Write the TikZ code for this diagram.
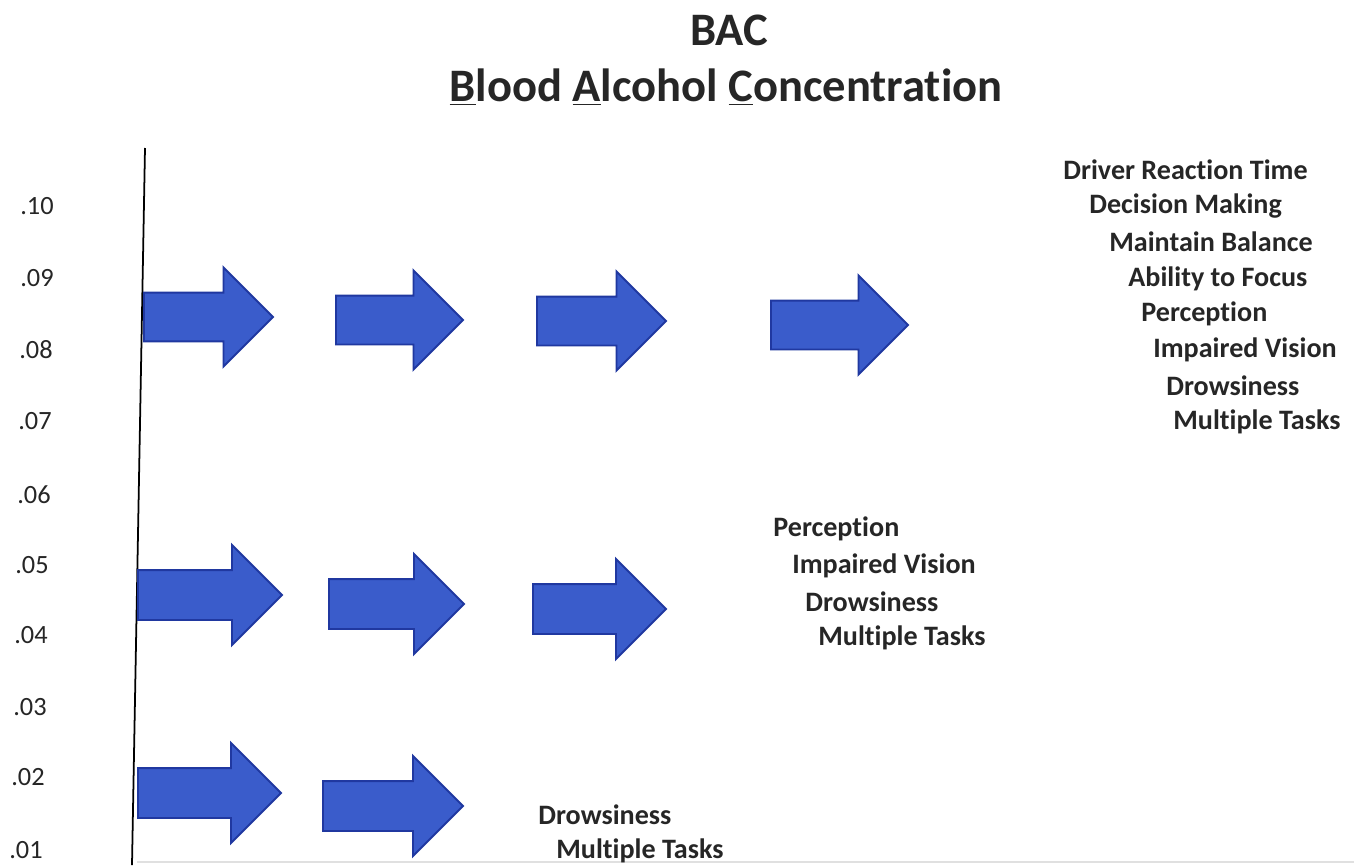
\documentclass[tikz,border=0pt]{standalone}
\usepackage{fontspec}
\setmainfont{Carlito}[Ligatures=NoCommon]
\usetikzlibrary{shapes.arrows}

\definecolor{arrowblue}{RGB}{58,92,203}
\definecolor{arrowedge}{RGB}{32,56,160}

\tikzset{
  bacarrow/.style={single arrow, draw=arrowedge, fill=arrowblue, line width=1.1pt,
    inner xsep=0pt, inner ysep=0.48cm, single arrow head extend=0.5cm,
    single arrow tip angle=90, anchor=tail},
  level/.style={anchor=west, inner sep=0pt, font=\fontsize{15}{18}\selectfont, text=black!85},
  effect/.style={anchor=west, inner sep=0pt, font=\bfseries\fontsize{16}{19}\selectfont, text=black!85}
}

\begin{document}
\begin{tikzpicture}[x=0.02cm, y=-0.02cm]
        \useasboundingbox (0,0) rectangle (1354,865);
        % title
        \node[font=\bfseries\fontsize{26.5}{30}\selectfont, text=black!85] (bac) at (729,30) {BAC};
        \node[font=\bfseries\fontsize{26.5}{30}\selectfont, text=black!85] (bactitle) at (726,87)
            {\underline{B}lood \underline{A}lcohol \underline{C}oncentration};
        % axis
        \coordinate (axtop) at (145,148);
        \coordinate (axbot) at (132,865);
        \coordinate (xend) at (1354,862);
        \draw[line width=1pt] (axtop) -- (axbot);
        \draw[black!12, line width=0.6pt] (137,862) -- (xend);
        % BAC levels
        \foreach \v/\x/\y in {10/20/206, 09/20/278, 08/19/350, 07/18/421, 06/17/495,
                              05/15/565, 04/14/635, 03/13/707, 02/11/777, 01/9/850}
            \node[level] (lv\v) at (\x,\y) {.\v};
        % .08 row
        \node[bacarrow, inner ysep=0.47cm, minimum height=2.58cm] (a1) at (143,317) {};
        \node[bacarrow, inner ysep=0.47cm, minimum height=2.54cm] (a2) at (335,320) {};
        \node[bacarrow, inner ysep=0.47cm, minimum height=2.58cm] (a3) at (536,321) {};
        \node[bacarrow, inner ysep=0.47cm, minimum height=2.74cm] (a4) at (770,325) {};
        % .05 row
        \node[bacarrow, minimum height=2.88cm] (b1) at (137,595) {};
        \node[bacarrow, minimum height=2.70cm] (b2) at (328,604) {};
        \node[bacarrow, minimum height=2.66cm] (b3) at (532,609) {};
        % .02 row
        \node[bacarrow, minimum height=2.86cm] (c1) at (137,793) {};
        \node[bacarrow, minimum height=2.80cm] (c2) at (322,806) {};
        % effects
        \node[effect] (e1) at (1063,170) {Driver Reaction Time};
        \node[effect] (e2) at (1089,206) {Decision Making};
        \node[effect] (e3) at (1109,242) {Maintain Balance};
        \node[effect] (e4) at (1128,279) {Ability to Focus};
        \node[effect] (e5) at (1141,314) {Perception};
        \node[effect] (e6) at (1153,350) {Impaired Vision};
        \node[effect] (e7) at (1166,386) {Drowsiness};
        \node[effect] (e8) at (1173,422) {Multiple Tasks};
        \node[effect] (m1) at (773,529) {Perception};
        \node[effect] (m2) at (792,566) {Impaired Vision};
        \node[effect] (m3) at (805,602) {Drowsiness};
        \node[effect] (m4) at (818,638) {Multiple Tasks};
        \node[effect] (l1) at (538,815) {Drowsiness};
        \node[effect] (l2) at (556,851) {Multiple Tasks};
    \end{tikzpicture}
\end{document}
